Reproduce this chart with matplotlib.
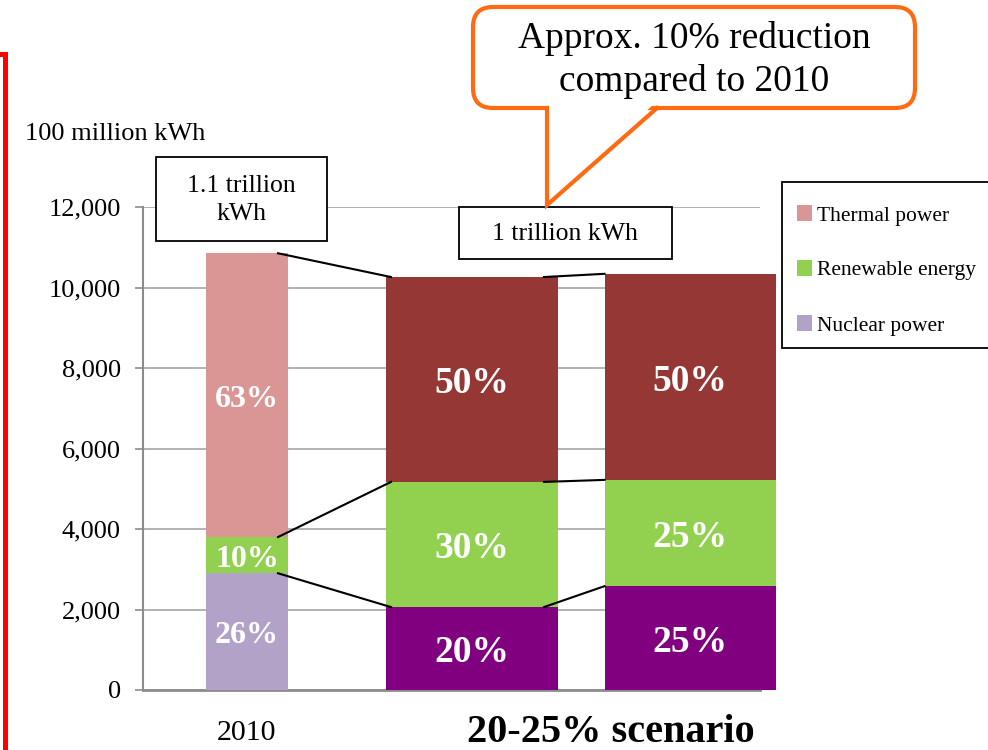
import numpy as np
import matplotlib
matplotlib.use("Agg")
import matplotlib.pyplot as plt
from matplotlib.patches import Rectangle, FancyBboxPatch, Polygon
from matplotlib.lines import Line2D

plt.rcParams['font.family'] = ['Liberation Serif', 'DejaVu Serif']

# datos (100 million kWh)
categorias = ["2010", "Scenario 20%", "Scenario 25%"]
nuclear = [2900, 2060, 2580]
renovable = [900, 3110, 2640]
termica = [7050, 5090, 5120]
pct_nuclear = ["26%", "20%", "25%"]
pct_renovable = ["10%", "30%", "25%"]
pct_termica = ["63%", "50%", "50%"]
etiquetas_series = ["Thermal power", "Renewable energy", "Nuclear power"]

col_termica = ["#D99694", "#953735", "#953735"]
col_renovable = ["#92D050", "#92D050", "#92D050"]
col_nuclear = ["#B3A2C7", "#800080", "#800080"]

# posiciones de las barras (unidades del eje x)
bar_x = [104, 329, 547]
bar_w = [82, 172, 171]

W, H = 988, 750
fig = plt.figure(figsize=(W / 100, H / 100), dpi=100)
ax = fig.add_axes([143 / W, 1 - 690 / H, (760 - 143) / W, (690 - 207) / H])

def P(x, y):
    # pixeles -> pulgadas (para fig.dpi_scale_trans)
    return (x / 100, (H - y) / 100)

tr = fig.dpi_scale_trans

def etiqueta(x, y, texto, fs):
    ax.annotate(texto, (x, y), xytext=(0, -3), textcoords="offset points", ha="center", va="center",
                color="white", fontsize=fs, fontweight="bold", zorder=5)

nuc = np.array(nuclear)
ren = np.array(renovable)
ter = np.array(termica)
for i in range(3):
    ax.bar(bar_x[i], nuc[i], width=bar_w[i], color=col_nuclear[i], clip_on=False, zorder=3)
    ax.bar(bar_x[i], ren[i], bottom=nuc[i], width=bar_w[i], color=col_renovable[i], clip_on=False, zorder=3)
    ax.bar(bar_x[i], ter[i], bottom=nuc[i] + ren[i], width=bar_w[i], color=col_termica[i], clip_on=False, zorder=3)
    fs = 23 if i == 0 else 27
    etiqueta(bar_x[i], nuc[i] / 2, pct_nuclear[i], fs)
    etiqueta(bar_x[i], nuc[i] + ren[i] / 2, pct_renovable[i], fs)
    etiqueta(bar_x[i], nuc[i] + ren[i] + ter[i] / 2, pct_termica[i], fs)

# lineas de union entre barras
cum = np.vstack([nuc, nuc + ren, nuc + ren + ter])
for k in range(3):
    x0 = bar_x[0] + bar_w[0] / 2 - 10
    x1 = bar_x[1] - bar_w[1] / 2 + 5
    ax.plot([x0, x1], [cum[k, 0], cum[k, 1]], color="black", lw=1.5, zorder=4, clip_on=False)
    x0 = bar_x[1] + bar_w[1] / 2 - 14
    x1 = bar_x[2] - bar_w[2] / 2
    ax.plot([x0, x1], [cum[k, 1], cum[k, 2]], color="black", lw=1.5, zorder=4, clip_on=False)

ax.set_xlim(0, 617)
ax.set_ylim(0, 12000)
ax.set_yticks(np.arange(0, 12001, 2000))
ax.set_yticklabels(["{:,}".format(v) for v in range(0, 12001, 2000)], fontsize=19)
ax.tick_params(axis="y", length=6, width=1.2, color="#8C8C8C", pad=10)
ax.set_xticks([])
ax.grid(axis="y", color="#A6A6A6", lw=1.2, zorder=0)
for s in ["top", "right"]:
    ax.spines[s].set_visible(False)
ax.spines["left"].set_color("#8C8C8C")
ax.spines["left"].set_linewidth(1.5)
ax.spines["bottom"].set_color("#8C8C8C")
ax.spines["bottom"].set_linewidth(2)
ax.set_axisbelow(True)

# textos
fig.text(25 / W, 1 - 134 / H, "100 million kWh", fontsize=19, va="center", ha="left")
fig.text(246 / W, 1 - 733 / H, "2010", fontsize=21.5, ha="center", va="center")
fig.text(611 / W, 1 - 733 / H, "20-25% scenario", fontsize=29, fontweight="bold", ha="center", va="center")

# cajas de totales
fig.patches.append(Rectangle(P(156, 241), 171 / 100, 84 / 100, transform=tr, fc="white", ec="black", lw=1.3, zorder=6))
fig.text(241 / W, 1 - 200 / H, "1.1 trillion\nkWh", fontsize=18.5, ha="center", va="center", linespacing=1.4, zorder=7)
fig.patches.append(Rectangle(P(459, 259), 213 / 100, 52 / 100, transform=tr, fc="white", ec="black", lw=1.3, zorder=6))
fig.text(565 / W, 1 - 234 / H, "1 trillion kWh", fontsize=18.5, ha="center", va="center", zorder=7)

# llamada naranja
naranja = "#FF6A13"
fig.patches.append(FancyBboxPatch(P(473, 108), 442 / 100, 101 / 100, transform=tr,
                                  boxstyle="round,pad=0,rounding_size=0.2", fc="white", ec=naranja, lw=3, zorder=6))
fig.patches.append(Polygon([P(548, 102), P(656, 102), P(548, 203)], closed=True, transform=tr,
                           fc="white", ec="none", zorder=7))
fig.lines.append(Line2D([P(547, 108)[0], P(547, 205)[0], P(657, 108)[0]],
                        [P(547, 108)[1], P(547, 205)[1], P(657, 108)[1]],
                        transform=tr, color=naranja, lw=3, zorder=8, solid_joinstyle="miter"))
fig.text(694 / W, 1 - 60 / H, "Approx. 10% reduction\ncompared to 2010", fontsize=27,
         ha="center", va="center", linespacing=1.33, zorder=9)

# leyenda
fig.patches.append(Rectangle(P(782, 348), 215 / 100, 166 / 100, transform=tr, fc="white", ec="black", lw=1.3, zorder=6))
for fila, (nombre, c) in enumerate(zip(etiquetas_series, [col_termica[0], col_renovable[0], col_nuclear[0]])):
    yc = 214 + 55 * fila
    fig.patches.append(Rectangle(P(797, yc + 6.5), 15 / 100, 15 / 100, transform=tr, fc=c, ec="none", zorder=7))
    fig.text(817 / W, 1 - (yc + 2) / H, nombre, fontsize=15.5, ha="left", va="center", zorder=8)

# marco rojo
fig.lines.append(Line2D([0, 5 / W, 5 / W], [1 - 54 / H, 1 - 54 / H, 0], transform=fig.transFigure,
                        color="#FF0000", lw=3.6, solid_joinstyle="miter"))

fig.savefig("out.png", dpi=100)
